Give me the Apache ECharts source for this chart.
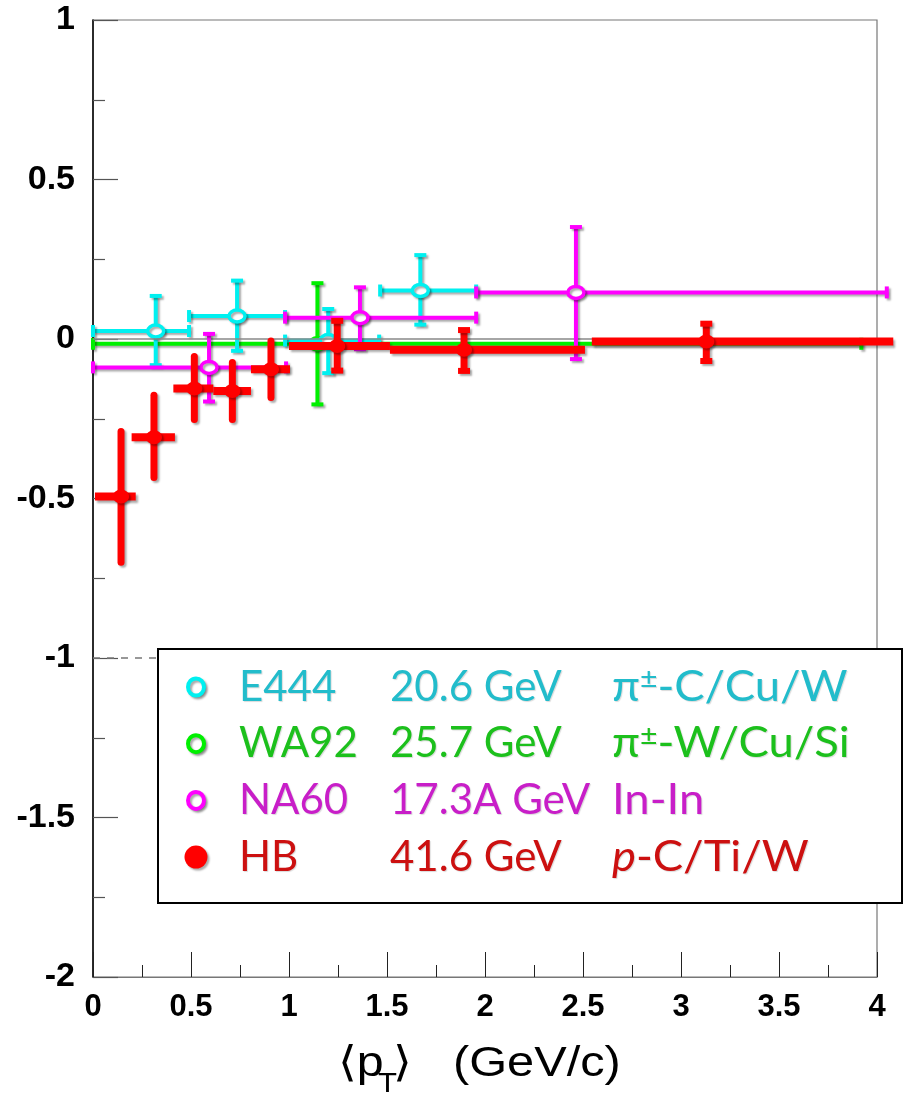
<!DOCTYPE html>
<html>
<head>
<meta charset="utf-8">
<script src="https://cdn.jsdelivr.net/npm/echarts@6/dist/echarts.min.js"></script>
<style>
  html, body { margin: 0; padding: 0; background: #fff; }
  #chart { width: 920px; height: 1096px; }
</style>
</head>
<body>
<div id="chart"></div>
<script>
// E444, 20.6 GeV, pi± on C/Cu/W
const e444X    = [0.32, 0.735, 1.20, 1.67];
const e444Y    = [0.025, 0.072, -0.005, 0.152];
const e444XLo  = [0.0, 0.49, 0.98, 1.465];
const e444XHi  = [0.49, 0.98, 1.46, 1.955];
const e444YLo  = [-0.082, -0.037, -0.107, 0.045];
const e444YHi  = [0.135, 0.183, 0.094, 0.263];

// WA92, 25.7 GeV, pi± on W/Cu/Si (pT-integrated)
const wa92X    = [1.145];
const wa92Y    = [-0.015];
const wa92XLo  = [0.0];
const wa92XHi  = [3.92];
const wa92YLo  = [-0.205];
const wa92YHi  = [0.175];

// NA60, 17.3A GeV, In-In
const na60X    = [0.592, 1.362, 2.464];
const na60Y    = [-0.089, 0.067, 0.146];
const na60XLo  = [0.0, 0.98, 1.955];
const na60XHi  = [0.985, 1.955, 4.05];
const na60YLo  = [-0.196, -0.032, -0.063];
const na60YHi  = [0.016, 0.162, 0.351];

// HB, 41.6 GeV, p on C/Ti/W
const hbX      = [0.143, 0.311, 0.517, 0.711, 0.908, 1.246, 1.893, 3.129];
const hbY      = [-0.494, -0.308, -0.155, -0.163, -0.095, -0.022, -0.034, -0.008];
const hbXLo    = [0.01, 0.197, 0.41, 0.614, 0.806, 1.0, 1.515, 2.545];
const hbXHi    = [0.218, 0.418, 0.614, 0.806, 1.005, 1.515, 2.51, 4.083];
const hbYLo    = [-0.70, -0.434, -0.252, -0.252, -0.183, -0.099, -0.10, -0.069];
const hbYHi    = [-0.29, -0.176, -0.055, -0.074, -0.006, 0.057, 0.028, 0.048];

// Legend rows: experiment, beam energy, reaction
const legendNames     = ['E444', 'WA92', 'NA60', 'HB'];
const legendEnergies  = ['20.6 GeV', '25.7 GeV', '17.3A GeV', '41.6 GeV'];

const xTicks = [0, 0.5, 1, 1.5, 2, 2.5, 3, 3.5, 4];

function rows(x, y, xlo, xhi, ylo, yhi) {
  return x.map((v, i) => [v, y[i], xlo[i], xhi[i], ylo[i], yhi[i]]);
}

const SHADOW = {
  shadowColor: 'rgba(0,0,0,0.33)',
  shadowBlur: 2,
  shadowOffsetX: 2,
  shadowOffsetY: 2
};

// Draws one error-cross point: horizontal bar, vertical bar, caps and marker
function makeRender(cfg) {
  return function (params, api) {
    const x = api.value(0), y = api.value(1);
    const c = api.coord([x, y]);
    const l = api.coord([api.value(2), y]);
    const r = api.coord([api.value(3), y]);
    const b = api.coord([x, api.value(4)]);
    const t = api.coord([x, api.value(5)]);
    const col = cfg.color;
    const idx = params.dataIndex;
    const capped = cfg.vCaps && idx >= (cfg.capFrom || 0);
    const lineStyle = Object.assign({ stroke: col, lineWidth: cfg.lw, fill: null, lineCap: 'butt' }, SHADOW);
    const children = [];
    children.push({ type: 'line', shape: { x1: l[0], y1: c[1], x2: r[0], y2: c[1] }, style: Object.assign({}, lineStyle, { lineWidth: cfg.hlw || cfg.lw }) });
    children.push({ type: 'line', shape: { x1: c[0], y1: t[1], x2: c[0], y2: b[1] },
      style: Object.assign({}, lineStyle, { lineCap: (!capped && cfg.roundEnds) ? 'round' : 'butt' }) });
    if (capped) {
      const w = cfg.capW;
      children.push({ type: 'line', shape: { x1: c[0] - w, y1: t[1], x2: c[0] + w, y2: t[1] }, style: Object.assign({}, lineStyle, { lineWidth: cfg.capT }) });
      children.push({ type: 'line', shape: { x1: c[0] - w, y1: b[1], x2: c[0] + w, y2: b[1] }, style: Object.assign({}, lineStyle, { lineWidth: cfg.capT }) });
    }
    if (cfg.hCaps) {
      const h = cfg.capW;
      children.push({ type: 'line', shape: { x1: l[0], y1: c[1] - h, x2: l[0], y2: c[1] + h }, style: Object.assign({}, lineStyle, { lineWidth: cfg.capT }) });
      children.push({ type: 'line', shape: { x1: r[0], y1: c[1] - h, x2: r[0], y2: c[1] + h }, style: Object.assign({}, lineStyle, { lineWidth: cfg.capT }) });
    }
    if (cfg.filled) {
      children.push({ type: 'ellipse', shape: { cx: c[0], cy: c[1], rx: 8, ry: 7 }, style: Object.assign({ fill: col }, SHADOW) });
    } else {
      children.push({ type: 'ellipse', shape: { cx: c[0], cy: c[1], rx: 8, ry: 6 }, style: Object.assign({ fill: '#fff', stroke: col, lineWidth: 3.5 }, SHADOW) });
    }
    return { type: 'group', children: children };
  };
}

function errSeries(name, data, cfg, z) {
  return {
    name: name,
    type: 'custom',
    clip: false,
    z: z,
    data: data,
    encode: { x: [0, 2, 3], y: [1, 4, 5] },
    renderItem: makeRender(cfg)
  };
}

const CYAN = '#00f0f0', GREEN = '#00f000', MAGENTA = '#ff00ff', RED = '#ff0000';
const legendTextColors = ['#22bccb', '#1cc01c', '#c81ec8', '#cc1010'];
const legendMarkColors = [CYAN, GREEN, MAGENTA, RED];

const chart = echarts.init(document.getElementById('chart'), null, { renderer: 'canvas' });

const labelFont = '"Liberation Sans", Arial, sans-serif';
const legendFont = 'Lato, "Open Sans", "DejaVu Sans", sans-serif';

// Legend box with three text columns
const legendTop = 649, rowGap = 56.7, firstRow = 687;
const legendGraphics = [{
  type: 'rect', z: 100,
  shape: { x: 158, y: legendTop, width: 744, height: 254 },
  style: { fill: '#fff', stroke: '#000', lineWidth: 2 }
}];
legendNames.forEach((nm, i) => {
  const yy = firstRow + i * rowGap;
  const filled = i === 3;
  legendGraphics.push(filled
    ? { type: 'circle', z: 101, shape: { cx: 196, cy: yy, r: 11.5 }, style: Object.assign({ fill: legendMarkColors[i] }, SHADOW) }
    : { type: 'ellipse', z: 101, shape: { cx: 196, cy: yy, rx: 8, ry: 8.5 }, style: Object.assign({ fill: '#fff', stroke: legendMarkColors[i], lineWidth: 4 }, SHADOW) });
  const ts = { fill: legendTextColors[i], font: '42px ' + legendFont, verticalAlign: 'middle', textShadowColor: 'rgba(0,0,0,0.15)', textShadowOffsetX: 1, textShadowOffsetY: 1, textShadowBlur: 1 };
  legendGraphics.push({ type: 'text', z: 101, x: 239, y: yy, style: Object.assign({ text: nm }, ts) });
  legendGraphics.push({ type: 'text', z: 101, x: 390, y: yy, style: Object.assign({ text: legendEnergies[i] }, ts) });
});
// Reaction column (needs super/italic runs)
const reacBase = { fontSize: 42, fontFamily: legendFont };
const reactions = [
  '{m|π}{s|±}{m|-C/Cu/W}',
  '{m|π}{s|±}{m|-W/Cu/Si}',
  '{m|In-In}',
  '{i|p}{m|-C/Ti/W}'
];
reactions.forEach((txt, i) => {
  const yy = firstRow + i * rowGap;
  const col = legendTextColors[i];
  legendGraphics.push({
    type: 'text', z: 101, x: 612, y: yy, scaleX: 1.08,
    style: {
      text: txt, verticalAlign: 'middle',
      textShadowColor: 'rgba(0,0,0,0.15)', textShadowOffsetX: 1, textShadowOffsetY: 1, textShadowBlur: 1,
      rich: {
        m: Object.assign({ fill: col, lineHeight: 50 }, reacBase),
        i: Object.assign({ fill: col, fontStyle: 'italic', lineHeight: 50 }, reacBase),
        s: { fill: col, fontSize: 28, fontFamily: legendFont, lineHeight: 50, padding: [0, 0, 16, 0] }
      }
    }
  });
});

// Axis title  <p_T>  (GeV/c)
const titleY = 1064;
const titleGraphics = [
  { type: 'text', x: 338, y: titleY, scaleX: 1.15, style: { text: '⟨p', font: '42px ' + labelFont + ', "DejaVu Sans"', fill: '#000', verticalAlign: 'middle' } },
  { type: 'text', x: 378, y: titleY + 21, scaleX: 1.15, style: { text: 'T', font: '27px ' + labelFont, fill: '#000', verticalAlign: 'middle' } },
  { type: 'text', x: 393, y: titleY, scaleX: 1.15, style: { text: '⟩', font: '42px ' + labelFont + ', "DejaVu Sans"', fill: '#000', verticalAlign: 'middle' } },
  { type: 'text', x: 453, y: titleY, scaleX: 1.16, style: { text: '(GeV/c)', font: '42px ' + labelFont, fill: '#000', verticalAlign: 'middle' } }
];

const option = {
  backgroundColor: '#fff',
  animation: false,
  grid: {
    left: 93, right: 43, top: 20, bottom: 119,
    show: true, borderColor: '#777', borderWidth: 1.2, backgroundColor: 'transparent'
  },
  xAxis: {
    type: 'value', min: 0, max: 4, interval: 0.5,
    axisLine: { show: true, onZero: false, lineStyle: { color: '#777', width: 1.2 } },
    axisTick: { show: true, inside: true, length: 25, lineStyle: { color: '#222', width: 1 } },
    minorTick: { show: true, splitNumber: 2, length: 12, lineStyle: { color: '#222', width: 1 } },
    splitLine: { show: false },
    axisLabel: {
      margin: 15, color: '#000', fontFamily: labelFont, fontWeight: 'bold', fontSize: 31,
      formatter: v => (xTicks.indexOf(v) >= 0 ? String(v) : '')
    }
  },
  yAxis: {
    type: 'value', min: -2, max: 1, interval: 0.5,
    axisLine: { show: true, onZero: false, lineStyle: { color: '#000', width: 1.5 } },
    axisTick: { show: true, inside: true, length: 25, lineStyle: { color: '#555', width: 1.2 } },
    minorTick: { show: true, splitNumber: 2, length: 12, lineStyle: { color: '#555', width: 1.2 } },
    splitLine: { show: false },
    axisLabel: { margin: 18, color: '#000', fontFamily: labelFont, fontWeight: 'bold', fontSize: 34 }
  },
  series: [
    {
      type: 'line', data: [], silent: true,
      markLine: {
        silent: true, symbol: 'none', label: { show: false },
        data: [
          { yAxis: 0, lineStyle: { color: '#888', width: 1.5, type: 'solid' } },
          { yAxis: -1, lineStyle: { color: '#777', width: 1.5, type: [7, 7] } }
        ]
      }
    },
    errSeries('WA92', rows(wa92X, wa92Y, wa92XLo, wa92XHi, wa92YLo, wa92YHi),
      { color: GREEN, lw: 4, vCaps: true, hCaps: true, capW: 6, capT: 4 }, 3),
    errSeries('E444', rows(e444X, e444Y, e444XLo, e444XHi, e444YLo, e444YHi),
      { color: CYAN, lw: 4, vCaps: true, hCaps: true, capW: 6, capT: 4 }, 4),
    errSeries('NA60', rows(na60X, na60Y, na60XLo, na60XHi, na60YLo, na60YHi),
      { color: MAGENTA, lw: 4, vCaps: true, hCaps: true, capW: 6, capT: 4 }, 5),
    errSeries('HB', rows(hbX, hbY, hbXLo, hbXHi, hbYLo, hbYHi),
      { color: RED, lw: 7, hlw: 8, filled: true, roundEnds: true, vCaps: true, capFrom: 5, capW: 6, capT: 6 }, 6)
  ],
  graphic: legendGraphics.concat(titleGraphics)
};

chart.setOption(option);
</script>
</body>
</html>
